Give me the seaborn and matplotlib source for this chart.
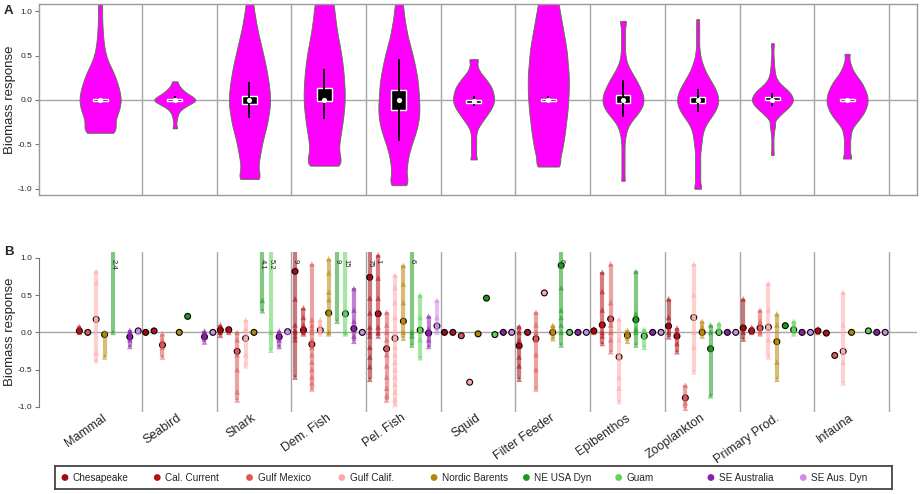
import numpy as np
import pandas as pd
import matplotlib
matplotlib.use("Agg")
import matplotlib.pyplot as plt
import seaborn as sns

GROUPS = ["Mammal", "Seabird", "Shark", "Dem. Fish", "Pel. Fish", "Squid",
          "Filter Feeder", "Epibenthos", "Zooplankton", "Primary Prod.", "Infauna"]
REGIONS = ["Chesapeake", "Cal. Current", "Gulf Mexico", "Gulf Calif.", "Nordic Barents",
           "NE USA Dyn", "Guam", "SE Australia", "SE Aus. Dyn"]
REGION_COLORS = ["#9E0B0F", "#B5121B", "#DE5757", "#FFAAAA", "#B8860B",
                 "#1C9A1C", "#5CD35C", "#8B1FA9", "#D08BEA"]

# panel A: pooled responses per group, given as response value + how many runs
# (counts), and the kernel bandwidth used for each
VIOLIN_Y = [
    [-0.37, -0.3, -0.2, -0.1, 0.0, 0.1, 0.2, 0.3, 0.4, 0.5, 0.6, 0.7, 0.8, 0.9, 1.0, 1.1, 1.2, 1.4],
    [-0.32, -0.25, -0.2, -0.15, -0.1, -0.05, 0.0, 0.05, 0.1, 0.15, 0.21],
    [-0.89, -0.8, -0.7, -0.6, -0.5, -0.4, -0.3, -0.2, -0.1, 0.0, 0.1, 0.2, 0.3, 0.4, 0.5, 0.6,
     0.7, 0.8, 0.9, 1.0, 1.1, 1.2],
    [-0.74, -0.67, -0.6, -0.5, -0.4, -0.3, -0.2, -0.1, 0.0, 0.1, 0.2, 0.3, 0.4, 0.5, 0.6, 0.7,
     0.8, 0.9, 1.0, 1.1, 1.2, 1.3],
    [-0.96, -0.9, -0.8, -0.7, -0.6, -0.5, -0.4, -0.3, -0.2, -0.1, 0.0, 0.1, 0.2, 0.3, 0.4, 0.5,
     0.6, 0.7, 0.8, 0.9, 1.0, 1.1, 1.2],
    [-0.67, -0.6, -0.55, -0.5, -0.45, -0.4, -0.35, -0.3, -0.25, -0.2, -0.15, -0.1, -0.05, 0.0,
     0.05, 0.1, 0.15, 0.2, 0.25, 0.3, 0.35, 0.4, 0.46],
    [-0.75, -0.7, -0.6, -0.5, -0.4, -0.3, -0.2, -0.1, 0.0, 0.1, 0.2, 0.3, 0.4, 0.5, 0.6, 0.7,
     0.8, 0.9, 1.0, 1.1, 1.2, 1.3, 1.4],
    [-0.91, -0.85, -0.8, -0.75, -0.7, -0.65, -0.6, -0.55, -0.5, -0.45, -0.4, -0.35, -0.3, -0.25,
     -0.2, -0.15, -0.1, -0.05, 0.0, 0.05, 0.1, 0.15, 0.2, 0.25, 0.3, 0.35, 0.4, 0.45, 0.5, 0.55,
     0.6, 0.65, 0.7, 0.75, 0.8, 0.85, 0.89],
    [-1.0, -0.95, -0.9, -0.85, -0.8, -0.75, -0.7, -0.65, -0.6, -0.55, -0.5, -0.45, -0.4, -0.35,
     -0.3, -0.25, -0.2, -0.15, -0.1, -0.05, 0.0, 0.05, 0.1, 0.15, 0.2, 0.25, 0.3, 0.35, 0.4,
     0.45, 0.5, 0.55, 0.6, 0.65, 0.7, 0.75, 0.8, 0.85, 0.91],
    [-0.62, -0.57, -0.52, -0.47, -0.42, -0.37, -0.32, -0.27, -0.2, -0.15, -0.1, -0.05, 0.0, 0.05,
     0.1, 0.15, 0.2, 0.25, 0.3, 0.35, 0.4, 0.45, 0.5, 0.55, 0.6, 0.64],
    [-0.66, -0.6, -0.55, -0.5, -0.45, -0.4, -0.35, -0.3, -0.25, -0.2, -0.15, -0.1, -0.05, 0.0,
     0.05, 0.1, 0.15, 0.2, 0.25, 0.3, 0.35, 0.4, 0.45, 0.52],
]
VIOLIN_N = [
    [28, 24, 31, 38, 41, 38, 33, 27, 18, 11, 8, 6, 5, 4, 4, 4, 4, 4],
    [6, 3, 4, 6, 12, 26, 42, 28, 16, 9, 6],
    [24, 15, 18, 21, 24, 28, 33, 36, 39, 40, 39, 37, 34, 31, 27, 23, 19, 15, 12, 9, 7, 5],
    [32, 17, 25, 28, 30, 33, 35, 37, 38, 38, 37, 36, 34, 32, 29, 26, 23, 21, 19, 17, 16, 14],
    [14, 13, 14, 16, 19, 24, 30, 35, 38, 39, 38, 37, 36, 33, 30, 26, 22, 17, 14, 11, 9, 7, 6],
    [10, 5, 5, 5, 5, 5, 6, 10, 16, 22, 28, 34, 38, 40, 39, 37, 34, 28, 22, 14, 9, 7, 12],
    [23, 12, 26, 28, 31, 33, 35, 37, 38, 39, 39, 39, 37, 36, 34, 31, 28, 25, 22, 19, 17, 15, 13],
    [5, 3, 3, 3, 3, 3, 3, 3, 3, 4, 5, 7, 10, 15, 22, 29, 35, 39, 40, 39, 36, 32, 28, 23, 18,
     13, 9, 6, 5, 4, 4, 4, 4, 4, 4, 4, 7],
    [9, 5, 5, 5, 5, 5, 5, 5, 5, 6, 7, 8, 9, 11, 14, 19, 25, 31, 36, 39, 40, 39, 36, 32, 27, 22,
     17, 13, 10, 7, 5, 4, 3, 3, 3, 3, 3, 3, 4],
    [3, 2, 2, 2, 2, 3, 4, 6, 10, 18, 28, 36, 40, 37, 31, 21, 12, 7, 5, 4, 3, 3, 2, 2, 2, 3],
    [12, 6, 6, 6, 6, 7, 8, 12, 19, 26, 32, 36, 39, 40, 39, 36, 32, 28, 21, 15, 10, 7, 5, 8],
]
VIOLIN_BW = [0.07, 0.032, 0.07, 0.07, 0.07, 0.035, 0.07, 0.035, 0.035, 0.032, 0.035]

BOX_Q1 = [-0.01, -0.012, -0.05, -0.01, -0.11, -0.035, -0.01, -0.04, -0.04, -0.005, -0.008]
BOX_Q3 = [0.01, 0.012, 0.05, 0.13, 0.11, -0.005, 0.01, 0.06, 0.03, 0.035, 0.008]
WHISK_LO = [-0.01, -0.04, -0.2, -0.22, -0.46, -0.07, -0.04, -0.19, -0.14, -0.07, -0.008]
WHISK_HI = [0.01, 0.04, 0.2, 0.35, 0.46, 0.04, 0.04, 0.22, 0.12, 0.08, 0.008]
BOX_MED = [0.0, 0.0, 0.0, 0.0, 0.0, -0.015, 0.0, 0.0, 0.0, 0.0, 0.0]

# panel B: median per region and group (None = no median shown)
N = None
MEDIANS = {
    "Chesapeake":     [N, 0.0, 0.03, 0.82, 0.74, 0.0, -0.18, 0.02, 0.085, 0.06, 0.02],
    "Cal. Current":   [0.02, 0.02, 0.035, 0.03, 0.25, 0.0, 0.0, 0.10, -0.05, 0.02, -0.01],
    "Gulf Mexico":    [0.0, -0.17, -0.255, -0.16, -0.22, -0.045, -0.085, 0.18, -0.88, 0.06, -0.31],
    "Gulf Calif.":    [0.175, N, -0.08, 0.03, -0.08, -0.67, 0.53, -0.33, 0.20, 0.07, -0.255],
    "Nordic Barents": [-0.03, 0.0, 0.0, 0.26, 0.15, -0.02, 0.0, -0.04, 0.0, -0.125, 0.0],
    "NE USA Dyn":     [N, 0.215, N, N, N, 0.46, 0.90, 0.17, -0.22, 0.09, N],
    "Guam":           [N, N, N, 0.25, 0.03, -0.03, 0.0, -0.05, 0.0, 0.035, 0.02],
    "SE Australia":   [-0.06, -0.06, -0.06, 0.05, -0.01, 0.0, 0.0, 0.0, 0.0, 0.0, 0.0],
    "SE Aus. Dyn":    [0.02, 0.0, 0.01, 0.0, 0.085, 0.0, 0.0, 0.0, 0.0, 0.0, 0.0],
}

# individual runs (triangles); the bar spans their range
RUNS = {
    "Chesapeake": [[], [], [-0.04, 0.0, 0.05, 0.1], [-0.6, -0.1, -0.05, 0.0, 0.03, 0.1, 0.45, 9],
                   [-0.63, -0.46, -0.33, -0.2, -0.05, 0.0, 0.07, 0.26, 0.46, 75], [],
                   [-0.63, -0.45, -0.33, -0.18, -0.1, 0.0, 0.08], [0.0, 0.02, 0.05],
                   [-0.06, 0.0, 0.085, 0.2, 0.45], [-0.09, 0.0, 0.06, 0.45], [0.0, 0.03, 0.05]],
    "Cal. Current": [[0.0, 0.03, 0.08], [], [0.0, 0.03, 0.06], [-0.02, 0.0, 0.03, 0.06, 0.1, 0.2, 0.33],
                     [-0.05, 0.0, 0.07, 0.25, 0.46, 0.73, 1.04], [], [],
                     [-0.15, -0.05, 0.0, 0.1, 0.3, 0.55, 0.81], [-0.26, -0.15, -0.05, 0.0, 0.06],
                     [0.0, 0.02, 0.07], []],
    "Gulf Mexico": [[], [-0.33, -0.2, -0.1, -0.02], [-0.91, -0.8, -0.5, -0.3, -0.1, 0.0],
                    [-0.76, -0.68, -0.6, -0.5, -0.4, -0.3, -0.2, -0.1, 0.0, 0.05, 0.1, 0.17, 0.92],
                    [-0.91, -0.85, -0.75, -0.6, -0.45, -0.3, -0.1, 0.0, 0.1, 0.27], [],
                    [-0.76, -0.5, -0.3, -0.1, 0.0, 0.1, 0.27], [-0.26, -0.1, 0.0, 0.1, 0.18, 0.4, 0.92],
                    [-1.02, -0.95, -0.88, -0.71], [-0.02, 0.0, 0.06, 0.15, 0.30], []],
    "Gulf Calif.": [[-0.38, -0.27, 0.17, 0.67, 0.82], [], [-0.45, -0.3, -0.08, 0.05, 0.17],
                    [-0.02, 0.03, 0.1, 0.17],
                    [-0.97, -0.9, -0.8, -0.7, -0.6, -0.5, -0.4, -0.3, -0.2, -0.08, 0.0, 0.2, 0.4, 0.6, 0.77],
                    [], [], [-0.93, -0.75, -0.6, -0.33, -0.1, 0.18], [-0.53, -0.2, 0.0, 0.2, 0.5, 0.92],
                    [-0.33, -0.1, 0.07, 0.3, 0.66], [-0.68, -0.4, -0.255, 0.1, 0.54]],
    "Nordic Barents": [[-0.33, 0.0], [], [], [-0.02, 0.0, 0.26, 0.44, 0.54, 0.8, 0.99],
                       [-0.08, 0.0, 0.15, 0.4, 0.65, 0.9], [], [-0.085, 0.0, 0.05, 0.095],
                       [-0.12, -0.04, 0.03], [-0.05, 0.0, 0.08, 0.15], [-0.63, -0.4, -0.125, 0.1, 0.25], []],
    "NE USA Dyn": [[0.0, 2.4], [], [0.29, 0.43, 4.1], [0.15, 9], [-0.17, -0.05, 0.0, 6], [],
                   [-0.17, 0.0, 0.1, 0.2, 0.3, 0.6, 0.9, 6], [-0.17, 0.0, 0.05, 0.17, 0.25, 0.82],
                   [-0.85, -0.22, 0.0, 0.10], [], []],
    "Guam": [[], [], [-0.24, 0.0, 5.2], [-0.02, 0.0, 0.25, 15], [-0.34, -0.1, 0.03, 0.2, 0.5], [], [],
             [-0.2, -0.05, 0.04], [0.0, 0.05, 0.12], [-0.02, 0.035, 0.1, 0.15], []],
    "SE Australia": [[-0.19, -0.1, -0.06, 0.0, 0.03], [-0.13, -0.06, 0.0, 0.02], [-0.19, -0.1, -0.06, 0.0, 0.02],
                     [-0.12, -0.05, 0.05, 0.15, 0.3, 0.59], [-0.19, -0.1, -0.01, 0.05, 0.22],
                     [], [], [], [], [], []],
    "SE Aus. Dyn": [[0.0, 0.02], [], [0.0, 0.02], [], [0.0, 0.085, 0.2, 0.43], [], [], [], [], [], []],
}

sns.set_style("white")
plt.rcParams["font.family"] = ["Liberation Sans", "DejaVu Sans"]

XLIM = (-0.878, 10.876)
YLIM = (-1.07, 1.08)
GRID = "#a6a6a6"
STEP = 0.1125  # spacing of the regions inside one group

fig = plt.figure(figsize=(9.21, 4.94), dpi=100)
ax_a = fig.add_axes([39 / 921, 1 - 195 / 494, 878 / 921, 191 / 494])
ax_b = fig.add_axes([39 / 921, 1 - 412 / 494, 878 / 921, 160 / 494])

# ---- panel A: violins
for g in range(len(GROUPS)):
    vals = np.repeat(VIOLIN_Y[g], VIOLIN_N[g])
    factor = VIOLIN_BW[g] / np.std(vals, ddof=1)
    sns.violinplot(x=np.full(len(vals), g - 0.06), y=vals, native_scale=True, orient="x",
                   width=0.55, cut=0, density_norm="width", inner=None, bw_method=factor,
                   color="#FF00FF", saturation=1, linecolor="#4d7d3a", linewidth=0.6,
                   ax=ax_a, zorder=2)

pos = np.arange(len(GROUPS)) - 0.06
ax_a.bar(pos, np.array(BOX_Q3) - np.array(BOX_Q1), bottom=BOX_Q1, width=0.2,
         color="black", zorder=4)
ax_a.vlines(pos, WHISK_LO, WHISK_HI, color="black", lw=1.3, zorder=4)
ax_a.scatter(pos, BOX_MED, s=14, color="white", zorder=5, linewidths=0)

for ax in (ax_a, ax_b):
    ax.set_xlim(XLIM)
    ax.set_ylim(YLIM)
    ax.axhline(0, color=GRID, lw=1, zorder=1)
    for i in range(len(GROUPS)):
        ax.axvline(i + 0.5, color=GRID, lw=1, zorder=1)
    ax.set_yticks([-1.0, -0.5, 0.0, 0.5, 1.0])
    ax.set_yticklabels(["-1.0", "-0.5", "0.0", "0.5", "1.0"])
    ax.tick_params(axis="y", length=3, width=0.8, color="#777777", labelsize=6, pad=2,
                   left=True)
    ax.set_xlabel("")

ax_a.set_xticks([])
for s in ax_a.spines.values():
    s.set_color("#999999")
    s.set_linewidth(1)

# ---- panel B: medians, ranges and runs
dots, tris = [], []
for r, region in enumerate(REGIONS):
    for g in range(len(GROUPS)):
        x = g + (r - 4) * STEP
        m = MEDIANS[region][g]
        if m is not None:
            dots.append((x, m, region))
        runs = RUNS[region][g]
        if runs:
            lo, hi = min(runs), max(runs)
            ax_b.vlines(x, lo, hi, color=REGION_COLORS[r], alpha=0.55, lw=3.0, zorder=3)
            for v in runs:
                tris.append((x, v, region))
            if hi > 1.0:
                ax_b.text(x, 0.99, f"{hi:.2g}", rotation=-90, ha="center", va="top",
                          fontsize=5.5, color="#222222", zorder=6)

dot_df = pd.DataFrame(dots, columns=["x", "y", "region"])
tri_df = pd.DataFrame(tris, columns=["x", "y", "region"])
palette = dict(zip(REGIONS, REGION_COLORS))
sns.scatterplot(data=dot_df, x="x", y="y", hue="region", palette=palette, s=18,
                edgecolor="black", linewidth=0.8, legend=False, ax=ax_b, zorder=2)
sns.scatterplot(data=tri_df, x="x", y="y", hue="region", palette=palette, marker="^", s=16,
                alpha=0.55, linewidth=0, legend=False, ax=ax_b, zorder=4)

ax_b.set_xlim(XLIM)
ax_b.set_ylim(YLIM)
ax_b.set_xlabel("")
for side in ("top", "right", "bottom"):
    ax_b.spines[side].set_visible(False)
ax_b.spines["left"].set_bounds(-1, 1)
ax_b.spines["left"].set_color("#777777")
ax_b.set_xticks(np.arange(len(GROUPS)) - 0.03)
ax_b.set_xticklabels(GROUPS, rotation=35, ha="right", rotation_mode="anchor", fontsize=9)
ax_b.tick_params(axis="x", length=0, pad=0)

for ax in (ax_a, ax_b):
    ax.set_ylabel("Biomass response", fontsize=9.5)
    ax.yaxis.set_label_coords(-0.026, 0.5)

fig.text(4 / 921, 1 - 11 / 494, "A", fontsize=9.5, fontweight="bold", va="center")
fig.text(4 / 921, 1 - 252 / 494, "B", fontsize=9.5, fontweight="bold", va="center")

# ---- legend strip
ax_l = fig.add_axes([55 / 921, 1 - 489 / 494, 837 / 921, 23 / 494])
ax_l.set_xlim(0, 9.07)
ax_l.set_ylim(0, 1)
ax_l.scatter(np.arange(len(REGIONS)) + 0.108, np.full(len(REGIONS), 0.5), c=REGION_COLORS,
             s=24, linewidths=0)
for r, region in enumerate(REGIONS):
    ax_l.text(r + 0.195, 0.48, region, fontsize=7.2, va="center", ha="left")
ax_l.set_xticks([])
ax_l.set_yticks([])
for s in ax_l.spines.values():
    s.set_color("#444444")
    s.set_linewidth(1.3)

fig.savefig("out.png", dpi=100)
